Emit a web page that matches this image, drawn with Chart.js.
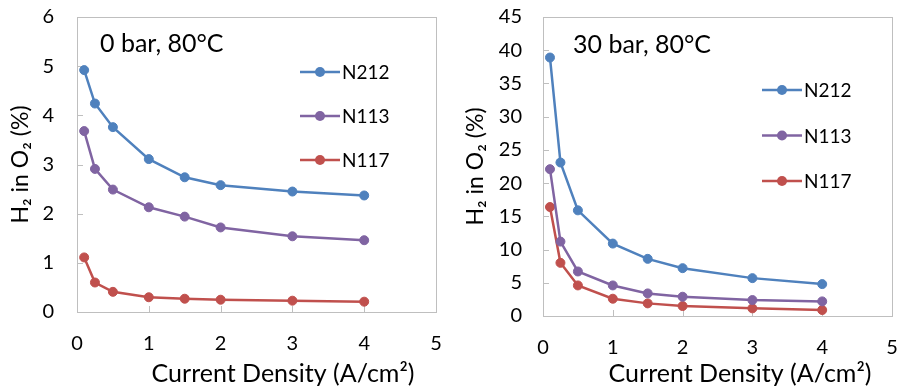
<!DOCTYPE html>
<html>
<head>
<meta charset="utf-8">
<script src="https://cdn.jsdelivr.net/npm/chart.js@4"></script>
<style>
  html, body { margin: 0; padding: 0; background: #fff; }
  #wrap { position: relative; width: 905px; height: 386px; overflow: hidden; }
  #left { position: absolute; left: 0; top: 0; }
  #right { position: absolute; left: 455px; top: 0; }
</style>
</head>
<body>
<div id="wrap">
  <canvas id="left" width="455" height="386"></canvas>
  <canvas id="right" width="450" height="386"></canvas>
</div>
<script>
// Data
const currentDensity = [0.1, 0.25, 0.5, 1, 1.5, 2, 3, 4];
const membranes = ["N212", "N113", "N117"];

// 0 bar, 80°C
const n212Bar0 = [4.92, 4.24, 3.76, 3.11, 2.74, 2.58, 2.45, 2.37];
const n113Bar0 = [3.68, 2.91, 2.49, 2.13, 1.94, 1.72, 1.54, 1.46];
const n117Bar0 = [1.11, 0.60, 0.41, 0.30, 0.27, 0.25, 0.23, 0.21];

// 30 bar, 80°C
const n212Bar30 = [38.9, 23.1, 15.9, 10.9, 8.6, 7.2, 5.7, 4.8];
const n113Bar30 = [22.1, 11.2, 6.7, 4.6, 3.4, 2.9, 2.4, 2.2];
const n117Bar30 = [16.4, 8.0, 4.6, 2.6, 1.9, 1.5, 1.15, 0.9];

const FONT = "Lato, 'Open Sans', sans-serif";

// Excel-like colours
const colors = {
  blue: "#4f81bd",
  purple: "#8064a2",
  red: "#c0504d",
  frame: "#bfbfbf",
  text: "#000000",
};
const seriesColors = [colors.blue, colors.purple, colors.red];

function makeDatasets(seriesList) {
  return seriesList.map((values, i) => ({
    label: membranes[i],
    data: values.map((v, k) => ({ x: currentDensity[k], y: v })),
    borderColor: seriesColors[i],
    backgroundColor: seriesColors[i],
    pointBackgroundColor: seriesColors[i],
    pointBorderColor: seriesColors[i],
    borderWidth: 2.5,
    pointRadius: 4.5,
    pointBorderWidth: 1,
    tension: 0,
  }));
}

// Frame, inner tick marks, in-plot legend, note and x title
const panelDecor = {
  id: "panelDecor",
  beforeDatasetsDraw(chart, args, opts) {
    const ctx = chart.ctx;
    const a = chart.chartArea;
    const x = chart.scales.x;
    const y = chart.scales.y;
    ctx.save();
    ctx.strokeStyle = colors.frame;
    ctx.lineWidth = 1;
    ctx.strokeRect(Math.round(a.left) + 0.5, Math.round(a.top) + 0.5,
      Math.round(a.right - a.left), Math.round(a.bottom - a.top));
    y.ticks.forEach((t) => {
      const py = Math.round(y.getPixelForValue(t.value)) + 0.5;
      ctx.beginPath();
      ctx.moveTo(a.left, py);
      ctx.lineTo(a.left + 6, py);
      ctx.stroke();
    });
    x.ticks.forEach((t) => {
      const px = Math.round(x.getPixelForValue(t.value)) + 0.5;
      ctx.beginPath();
      ctx.moveTo(px, a.bottom);
      ctx.lineTo(px, a.bottom - 6);
      ctx.stroke();
    });
    ctx.restore();
  },
  afterDraw(chart, args, opts) {
    const ctx = chart.ctx;
    ctx.save();
    // legend
    chart.data.datasets.forEach((ds, i) => {
      const ly = opts.legendY + i * opts.legendGap;
      ctx.strokeStyle = ds.borderColor;
      ctx.lineWidth = 2.5;
      ctx.beginPath();
      ctx.moveTo(opts.legendX, ly);
      ctx.lineTo(opts.legendX + 40, ly);
      ctx.stroke();
      ctx.fillStyle = ds.borderColor;
      ctx.beginPath();
      ctx.arc(opts.legendX + 20, ly, 5, 0, Math.PI * 2);
      ctx.fill();
      ctx.fillStyle = colors.text;
      ctx.font = "19px " + FONT;
      ctx.textAlign = "left";
      ctx.textBaseline = "middle";
      ctx.fillText(ds.label, opts.legendX + 42, ly + 1);
    });
    // note
    ctx.fillStyle = colors.text;
    ctx.font = "25px " + FONT;
    ctx.textAlign = "left";
    ctx.textBaseline = "alphabetic";
    ctx.fillText(opts.note, opts.noteX, opts.noteY);
    // x axis title
    ctx.textAlign = "center";
    ctx.fillText("Current Density (A/cm\u00B2)", opts.xTitleX, opts.xTitleY);
    ctx.restore();
  },
};

function createPanel(canvasId, seriesList, yMax, yStep, layout) {
  const ctx = document.getElementById(canvasId).getContext("2d");
  return new Chart(ctx, {
    type: "line",
    data: { datasets: makeDatasets(seriesList) },
    options: {
      responsive: false,
      animation: false,
      layout: { padding: { top: 17, right: layout.padRight, left: 0, bottom: 0 } },
      plugins: {
        legend: { display: false },
        tooltip: { enabled: false },
        panelDecor: layout.decor,
      },
      scales: {
        x: {
          type: "linear",
          min: 0,
          max: 5,
          ticks: { stepSize: 1, padding: layout.xPad, color: colors.text, font: { family: FONT, size: 20 } },
          grid: { display: false },
          border: { display: false },
          afterFit: (s) => {
            s.height = layout.xHeight;
            s.paddingLeft = 0;
            s.paddingRight = 0;
          },
        },
        y: {
          min: 0,
          max: yMax,
          ticks: { stepSize: yStep, padding: layout.yPad, color: colors.text, font: { family: FONT, size: 20 } },
          grid: { display: false },
          border: { display: false },
          title: {
            display: true,
            text: "H\u2082 in O\u2082 (%)",
            color: colors.text,
            font: { family: FONT, size: 23 },
            padding: { top: 7, bottom: 0 },
          },
          afterFit: (s) => {
            s.width = layout.yWidth;
            s.paddingTop = 0;
            s.paddingBottom = 0;
          },
        },
      },
    },
    plugins: [panelDecor],
  });
}

createPanel("left", [n212Bar0, n113Bar0, n117Bar0], 6, 1, {
  padRight: 19, xHeight: 74, yWidth: 77, xPad: 12, yPad: 15,
  decor: { legendX: 300, legendY: 72, legendGap: 44, note: "0 bar, 80\u00B0C", noteX: 100, noteY: 52, xTitleX: 283, xTitleY: 382 },
});

createPanel("right", [n212Bar30, n113Bar30, n117Bar30], 45, 5, {
  padRight: 13, xHeight: 70, yWidth: 88, xPad: 12, yPad: 13,
  decor: { legendX: 307, legendY: 90, legendGap: 45.5, note: "30 bar, 80\u00B0C", noteX: 118, noteY: 53, xTitleX: 285, xTitleY: 382 },
});
</script>
</body>
</html>
